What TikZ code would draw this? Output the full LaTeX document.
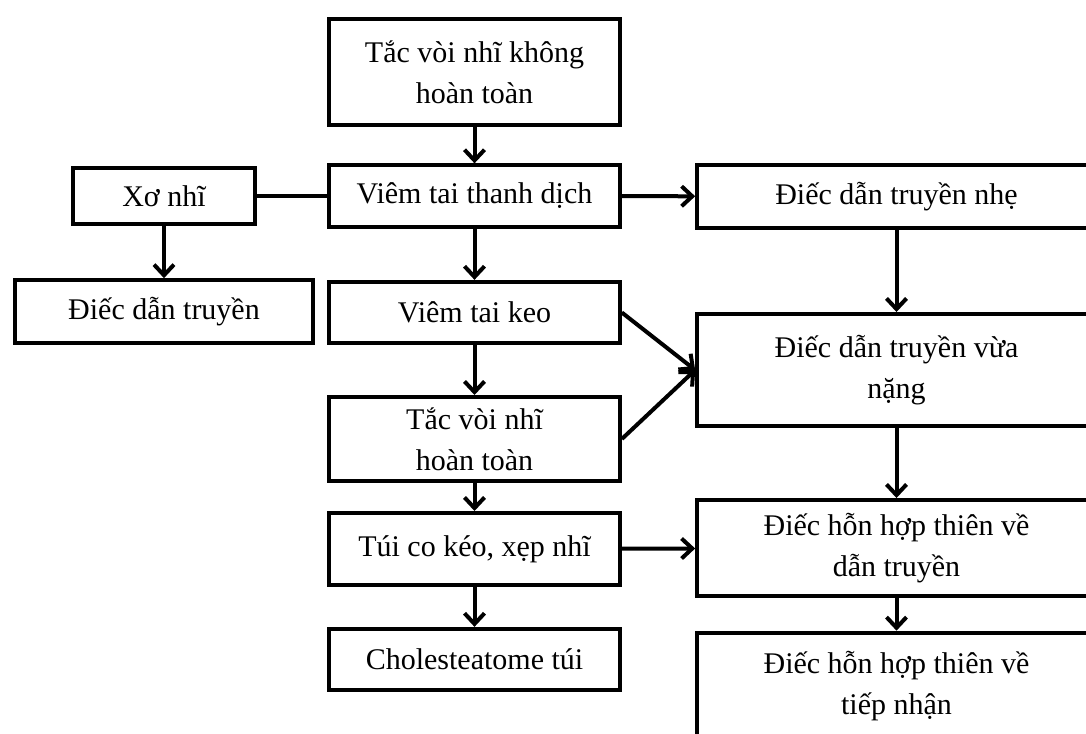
\documentclass[tikz,border=0pt]{standalone}
\usepackage{fontspec}
\setmainfont{Liberation Serif}
\usepackage{tikz}
\usetikzlibrary{arrows.meta,positioning}

\begin{document}
\begin{tikzpicture}[
      x=0.75pt,y=-0.75pt,
      mybox/.style={
         rectangle,
         draw=black,
         line width=3pt,
         align=center,
         inner sep=2pt,
         font=\fontsize{22.5}{31}\selectfont},
      midbox/.style={mybox, minimum width=218pt},
      rightbox/.style={mybox, minimum width=299pt},
      myarrow/.style={-{Straight Barb[length=8pt,width=15pt]}, line width=3pt}
      ]
\path[use as bounding box, clip] (0,0) rectangle (1086,733);

\node[midbox, minimum height=79pt] (tvk) at (474.5,72) {Tắc vòi nhĩ không\\hoàn toàn};

\node[midbox, minimum height=46pt] (vtd) at (474.5,196) {Viêm tai thanh dịch};

\node[mybox, minimum width=136pt, minimum height=42pt] (xo) at (164,196) {Xơ nhĩ};

\node[mybox, minimum width=223pt, minimum height=47pt] (ddt) at (164,311.5) {Điếc dẫn truyền};

\node[midbox, minimum height=46pt] (vtk) at (474.5,312.5) {Viêm tai keo};

\node[midbox, minimum height=63pt] (tvh) at (474.5,439) {Tắc vòi nhĩ\\hoàn toàn};

\node[midbox, minimum height=54pt] (tck) at (474.5,549) {Túi co kéo, xẹp nhĩ};

\node[midbox, minimum height=46pt] (chol) at (474.5,659.5) {Cholesteatome túi};

\node[rightbox, minimum height=47pt] (nhe) at (896.5,196.5) {Điếc dẫn truyền nhẹ};

\node[rightbox, minimum height=84pt] (vn) at (896.5,370) {Điếc dẫn truyền vừa\\nặng};

\node[rightbox, minimum height=72pt] (hdt) at (896.5,548) {Điếc hỗn hợp thiên về\\dẫn truyền};

\node[rightbox, minimum height=95pt, text depth=20pt] (htn) at (896.5,696) {Điếc hỗn hợp thiên về\\tiếp nhận};

\draw[line width=3pt] (xo) -- (vtd);

\foreach \i/\j in {% start node/end node
      tvk/vtd,vtd/vtk,vtk/tvh,tvh/tck,tck/chol,
      xo/ddt,vtd/nhe,nhe/vn,vn/hdt,hdt/htn,tck/hdt}
       \draw[myarrow] (\i) -- (\j);

\draw[myarrow] (vtk.east) -- (vn.west);
\draw[myarrow] (tvh.east) -- (vn.west);

\end{tikzpicture}
\end{document}
